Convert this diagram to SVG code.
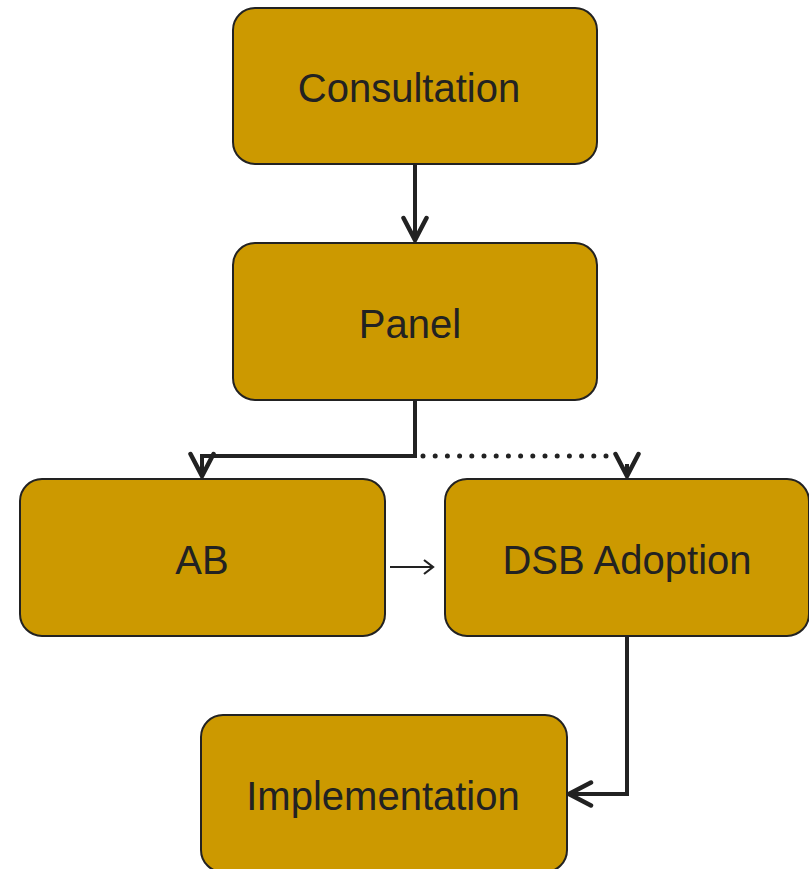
<svg xmlns="http://www.w3.org/2000/svg" width="809" height="869" viewBox="0 0 809 869">
<defs>
<style>
.box{fill:#cc9900;stroke:#222;stroke-width:2}
.lbl{font-family:"Liberation Sans",Arial,sans-serif;font-size:40px;fill:#222;text-anchor:middle}
.edge{fill:none;stroke:#222;stroke-width:4;stroke-linejoin:miter}
.dot{fill:none;stroke:#222;stroke-width:5;stroke-linecap:round;stroke-dasharray:0 12.2}
.thin{fill:none;stroke:#222;stroke-width:2}
</style>
<marker id="ah" markerUnits="userSpaceOnUse" viewBox="-26 -15 30 30" refX="0" refY="0" markerWidth="30" markerHeight="30" orient="auto">
<path d="M-22,-11.5 L0,0 L-22,11.5" fill="none" stroke="#222" stroke-width="4.5" stroke-linecap="round" stroke-linejoin="miter"/>
</marker>
<marker id="ahs" markerUnits="userSpaceOnUse" viewBox="-12 -10 14 20" refX="0" refY="0" markerWidth="14" markerHeight="20" orient="auto">
<path d="M-9,-7 L0,0 L-9,7" fill="none" stroke="#222" stroke-width="2.2"/>
</marker>
</defs>
<g id="connectors">
<path class="edge" d="M415,164 L415,240" marker-end="url(#ah)"/>
<path class="edge" d="M415,400 L415,456 L202,456 L202,476" marker-end="url(#ah)"/>
<path class="dot" d="M423,456 L618,456"/>
<path class="edge" d="M627,464 L627,476" stroke="none" marker-end="url(#ah)"/>
<path class="thin" d="M390,567 L433,567" marker-end="url(#ahs)"/>
<path class="edge" d="M627,636 L627,794 L569,794" marker-end="url(#ah)"/>
</g>
<g id="consultation">
<rect class="box" x="233" y="8" width="364" height="156" rx="22"/>
<text class="lbl" x="409" y="102">Consultation</text>
</g>
<g id="panel">
<rect class="box" x="233" y="243" width="364" height="157" rx="22"/>
<text class="lbl" x="410" y="338">Panel</text>
</g>
<g id="ab">
<rect class="box" x="20" y="479" width="365" height="157" rx="22"/>
<text class="lbl" x="202" y="574">AB</text>
</g>
<g id="dsb">
<rect class="box" x="445" y="479" width="364" height="157" rx="22"/>
<text class="lbl" x="627" y="574">DSB Adoption</text>
</g>
<g id="implementation">
<rect class="box" x="201" y="715" width="366" height="157" rx="22"/>
<text class="lbl" x="383" y="810">Implementation</text>
</g>
</svg>
